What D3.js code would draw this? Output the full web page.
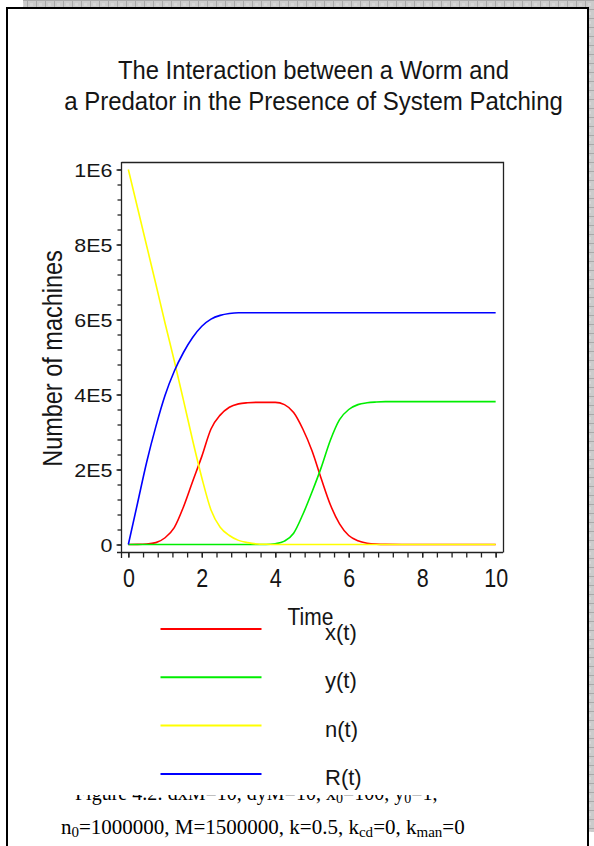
<!DOCTYPE html>
<html lang="en">
<head>
<meta charset="UTF-8">
<link rel="icon" href="data:,">
<script src="https://cdn.jsdelivr.net/npm/d3@7/dist/d3.min.js"></script>
<style>
body {
  margin: 0;
  background: #fff;
}
svg text {
  font-family: "Liberation Sans", Arial, sans-serif;
  fill: #151515;
}
svg text.serif {
  font-family: "Liberation Serif", "Times New Roman", serif;
  fill: #000;
}
</style>
</head>
<body>
<svg id="view" width="594" height="846"></svg>
<script>
// sample times and the four series
const times = [0, 0.25, 0.5, 0.75, 1, 1.25, 1.5, 1.75, 2, 2.25, 2.5, 2.75, 3, 3.25, 3.5, 3.75,
               4, 4.25, 4.5, 4.75, 5, 5.25, 5.5, 5.75, 6, 6.25, 6.5, 6.75, 7, 8, 9, 10];
const wormX = [100, 300, 1200, 5000, 18000, 45000, 100000, 168000, 235000, 308000, 345000, 366000, 375000, 378000, 379000, 379000,
               379000, 373000, 352000, 308000, 250000, 176000, 106000, 55000, 24000, 10000, 3500, 1000, 300, 0, 0, 0];
const predY = [0, 0, 0, 0, 0, 0, 0, 0, 0, 0, 0, 0, 0, 0, 0, 0,
               2000, 9000, 30000, 80000, 140000, 205000, 278000, 333000, 360000, 373000, 378000, 380000, 381000, 381000, 381000, 381000];
const vulnN = [1000000, 898000, 796000, 694000, 590000, 490000, 385000, 278000, 178000, 92000, 46000, 24000, 11000, 5000, 1500, 500,
               0, 0, 0, 0, 0, 0, 0, 0, 0, 0, 0, 0, 0, 0, 0, 0];
const patchR = [0, 110000, 220000, 315000, 398000, 462000, 512000, 552000, 582000, 601000, 611000, 616000, 618000, 618000, 618000, 618000,
                618000, 618000, 618000, 618000, 618000, 618000, 618000, 618000, 618000, 618000, 618000, 618000, 618000, 618000, 618000, 618000];

const seriesNames = ["x(t)", "y(t)", "n(t)", "R(t)"];
const seriesColors = ["#ff0000", "#00ee00", "#ffff00", "#0000ff"];

const yMajor = [0, 200000, 400000, 600000, 800000, 1000000];
const yTickLabels = ["0", "2E5", "4E5", "6E5", "8E5", "1E6"];
const xMajor = [0, 2, 4, 6, 8, 10];
const xTickLabels = ["0", "2", "4", "6", "8", "10"];

const titleLines = ["The Interaction between a Worm and", "a Predator in the Presence of System Patching"];

const svg = d3.select("#view");

// page frame with the grey checkered edge
const defs = svg.append("defs");
const pat = defs.append("pattern").attr("id", "checker")
  .attr("width", 9).attr("height", 9).attr("patternUnits", "userSpaceOnUse");
pat.append("rect").attr("width", 9).attr("height", 9).attr("fill", "#cbcbcb");
pat.append("path").attr("d", "M0 0.5H9M0.5 0V9").attr("stroke", "#a9a9a9").attr("stroke-width", 1);
pat.append("rect").attr("x", 3).attr("y", 3).attr("width", 3).attr("height", 3).attr("fill", "#d6d6d6");

svg.append("rect").attr("x", 23).attr("y", 0).attr("width", 571).attr("height", 7).attr("fill", "url(#checker)");
svg.append("rect").attr("x", 589).attr("y", 0).attr("width", 5).attr("height", 832).attr("fill", "url(#checker)");
svg.append("path")
  .attr("d", "M7 846V8H588V846")
  .attr("fill", "none").attr("stroke", "#000").attr("stroke-width", 2);

// title
svg.append("g").selectAll("text")
  .data(titleLines)
  .join("text")
  .attr("transform", (d, i) => `translate(313.5,${79 + i * 31}) scale(1,1.05)`)
  .attr("text-anchor", "middle")
  .attr("font-size", (d, i) => i ? 24 : 23.8)
  .text(d => d);

// scales
const plot = { left: 121, right: 503, top: 162, bottom: 552 };
const x = d3.scaleLinear().domain([-0.2, 10.2]).range([plot.left, plot.right]);
const y = d3.scaleLinear().domain([-20000, 1020000]).range([plot.bottom, plot.top]);

// box
svg.append("path")
  .attr("d", `M${plot.left + 0.5} ${plot.top + 0.5}H${plot.right + 0.5}V${plot.bottom + 0.5}`)
  .attr("fill", "none").attr("stroke", "#222").attr("stroke-width", 1.3);

// y axis: minor ticks then labelled majors
const yMinorAxis = d3.axisLeft(y).tickValues(d3.range(0, 1000001, 40000)).tickSize(4).tickFormat("");
svg.append("g").attr("transform", `translate(${plot.left + 0.5},0)`).call(yMinorAxis)
  .call(g => g.select(".domain").remove())
  .selectAll("line").attr("stroke", "#222").attr("stroke-width", 1.3);

const yAxis = d3.axisLeft(y).tickValues(yMajor).tickSize(5).tickPadding(4)
  .tickFormat((d, i) => yTickLabels[i]);
const gy = svg.append("g").attr("transform", `translate(${plot.left + 0.5},0)`).call(yAxis);
gy.select(".domain").remove();
gy.selectAll("line").attr("stroke", "#222").attr("stroke-width", 1.3);
gy.selectAll("text")
  .attr("font-family", null).attr("font-size", 21.5)
  .attr("dy", "0.36em")
  .attr("transform", "scale(1,0.85)");

// x axis
const xMinorAxis = d3.axisBottom(x).tickValues(d3.range(0, 10.01, 0.4)).tickSize(5).tickFormat("");
svg.append("g").attr("transform", `translate(0,${plot.bottom + 0.5})`).call(xMinorAxis)
  .call(g => g.select(".domain").remove())
  .selectAll("line").attr("stroke", "#222").attr("stroke-width", 1.3);

const xAxis = d3.axisBottom(x).tickValues(xMajor).tickSize(5)
  .tickFormat((d, i) => xTickLabels[i]);
const gx = svg.append("g").attr("transform", `translate(0,${plot.bottom + 0.5})`).call(xAxis);
gx.select(".domain").remove();
gx.selectAll("line").attr("stroke", "#222").attr("stroke-width", 1.3);
gx.selectAll("text")
  .attr("font-family", null).attr("font-size", 21.5)
  .attr("y", 0).attr("dy", null)
  .attr("transform", "translate(0,34) scale(1,1.2)");

// axis lines, crossing at the corner
svg.append("path")
  .attr("d", `M${plot.left + 0.5} ${plot.top}V${plot.bottom + 6}M${plot.left - 4} ${plot.bottom + 0.5}H${plot.right}`)
  .attr("stroke", "#222").attr("stroke-width", 1.3);

// axis titles
svg.append("text")
  .attr("transform", "translate(62,358.5) rotate(-90) scale(1,1.2)")
  .attr("text-anchor", "middle")
  .attr("font-size", 23.5)
  .text("Number of machines");

svg.append("text")
  .attr("transform", "translate(287.5,625) scale(1,1.1)")
  .attr("font-size", 21)
  .text("Time");

// curves
const series = [wormX, predY, vulnN, patchR].map((vals, i) => ({
  name: seriesNames[i],
  color: seriesColors[i],
  values: vals
}));

const line = d3.line()
  .x((d, i) => x(times[i]))
  .y(d => y(d))
  .curve(d3.curveMonotoneX);

svg.append("g").selectAll("path")
  .data(series)
  .join("path")
  .attr("fill", "none")
  .attr("stroke", d => d.color)
  .attr("stroke-width", 1.6)
  .attr("d", d => line(d.values));

// legend
const legend = svg.append("g").selectAll("g")
  .data(series)
  .join("g")
  .attr("transform", (d, i) => `translate(0,${629 + i * 48.3})`);
legend.append("line")
  .attr("x1", 160.5).attr("x2", 261.5)
  .attr("stroke", d => d.color).attr("stroke-width", 2);
legend.append("text")
  .attr("x", 325).attr("y", 11)
  .attr("font-size", 22)
  .text(d => d.name);

// caption, first line hidden behind the legend block
defs.append("clipPath").attr("id", "capclip")
  .append("rect").attr("x", 0).attr("y", 795).attr("width", 594).attr("height", 60);

const cap1 = svg.append("text").attr("class", "serif")
  .attr("clip-path", "url(#capclip)")
  .attr("x", 75).attr("y", 800).attr("font-size", 20);
cap1.append("tspan").text("Figure 4.2: dxM=10, dyM=10, x");
cap1.append("tspan").attr("dy", 3).attr("font-size", 14).text("0");
cap1.append("tspan").attr("dy", -3).text("=100, y");
cap1.append("tspan").attr("dy", 3).attr("font-size", 14).text("0");
cap1.append("tspan").attr("dy", -3).text("=1,");

const cap2 = svg.append("text").attr("class", "serif")
  .attr("x", 61).attr("y", 834).attr("font-size", 21);
cap2.append("tspan").text("n");
cap2.append("tspan").attr("dy", 3).attr("font-size", 15).text("0");
cap2.append("tspan").attr("dy", -3).text("=1000000, M=1500000, k=0.5, k");
cap2.append("tspan").attr("dy", 3).attr("font-size", 15).text("cd");
cap2.append("tspan").attr("dy", -3).text("=0, k");
cap2.append("tspan").attr("dy", 3).attr("font-size", 15).text("man");
cap2.append("tspan").attr("dy", -3).text("=0");
</script>
</body>
</html>
